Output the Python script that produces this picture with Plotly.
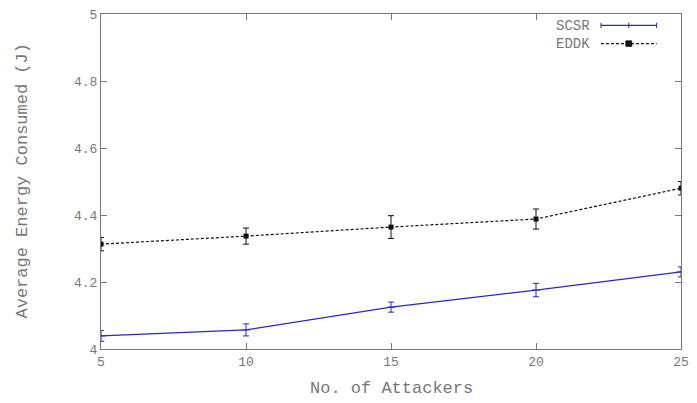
import plotly.graph_objects as go

attackers = [5, 10, 15, 20, 25]
scsr = [4.039, 4.057, 4.125, 4.176, 4.230]
scsr_err = [0.016, 0.018, 0.015, 0.02, 0.015]
eddk = [4.313, 4.337, 4.364, 4.388, 4.480]
eddk_err = [0.02, 0.024, 0.034, 0.03, 0.02]
y_ticks = [4, 4.2, 4.4, 4.6, 4.8, 5]
y_labels = ["4", "4.2", "4.4", "4.6", "4.8", "5"]
series_names = ["SCSR", "EDDK"]
x_title = "No. of Attackers"
y_title = "Average Energy Consumed (J)"

mono = "Liberation Mono, Courier New, monospace"
gray = "#777777"
blue = "#2727c8"
black = "#111111"

fig = go.Figure()
fig.add_trace(go.Scatter(
    x=attackers, y=scsr, mode="lines+markers", name=series_names[0],
    line=dict(color=blue, width=1.3),
    marker=dict(symbol="line-ew", size=6, color=blue, line=dict(width=1, color=blue)),
    error_y=dict(type="data", array=scsr_err, color=blue, thickness=1, width=3),
    showlegend=False))
fig.add_trace(go.Scatter(
    x=attackers, y=eddk, mode="lines+markers", name=series_names[1],
    line=dict(color=black, width=1.2, dash="3px,2px"),
    marker=dict(symbol="square", size=5, color=black),
    error_y=dict(type="data", array=eddk_err, color=black, thickness=1, width=3),
    showlegend=False))

# gnuplot-style legend (text, then sample)
fs = 14
line_h = fs * 1.3
plot_h = 403 - 14 - 54
center = 1 - (34.5 - 14) / plot_h
fig.add_annotation(x=0.847, y=center, xref="paper", yref="paper",
                   text="<br>".join(series_names), align="right",
                   showarrow=False, xanchor="right", yanchor="middle",
                   font=dict(family=mono, size=fs, color=gray))
lx0, lx1 = 0.862, 0.958
lxm = (lx0 + lx1) / 2
styles = [(blue, "solid"), (black, "3px,2px")]
for i, (col, dash) in enumerate(styles):
    yp = center + (0.5 - i) * line_h / plot_h
    fig.add_shape(type="line", xref="paper", yref="paper", x0=lx0, x1=lx1, y0=yp, y1=yp,
                  line=dict(color=col, width=1.2, dash=dash))
    if i == 0:
        for xx in (lx0, lxm, lx1):
            fig.add_shape(type="line", xref="paper", yref="paper", x0=xx, x1=xx,
                          y0=yp - 0.008, y1=yp + 0.008, line=dict(color=col, width=1))
    else:
        fig.add_shape(type="rect", xref="paper", yref="paper", x0=lxm - 0.005, x1=lxm + 0.005,
                      y0=yp - 0.008, y1=yp + 0.008, line=dict(color=col, width=1), fillcolor=col)

# axis titles
fig.add_annotation(x=0.5, y=0, xref="paper", yref="paper", text=x_title, showarrow=False,
                   xanchor="center", yanchor="middle", yshift=-39,
                   font=dict(family=mono, size=17, color=gray))
fig.add_annotation(x=0, y=0.5, xref="paper", yref="paper", text=y_title, showarrow=False,
                   xanchor="center", yanchor="middle", xshift=-79, textangle=-90,
                   font=dict(family=mono, size=17, color=gray))

fig.update_layout(
    width=697, height=403,
    margin=dict(l=101, r=16, t=14, b=54),
    paper_bgcolor="white", plot_bgcolor="white",
    font=dict(family=mono, size=13, color=gray),
    xaxis=dict(range=[5, 25], tickvals=attackers, ticktext=[str(a) for a in attackers],
               ticks="inside", ticklen=6, tickcolor=gray, showgrid=False, zeroline=False,
               showline=True, linecolor=gray, linewidth=1, mirror="ticks", automargin=False,
               tickfont=dict(family=mono, size=13, color=gray)),
    yaxis=dict(range=[4, 5], tickvals=y_ticks, ticktext=y_labels,
               ticks="inside", ticklen=6, tickcolor=gray, showgrid=False, zeroline=False,
               showline=True, linecolor=gray, linewidth=1, mirror="ticks", automargin=False,
               tickfont=dict(family=mono, size=13, color=gray)),
)

fig.write_html("out.html")
